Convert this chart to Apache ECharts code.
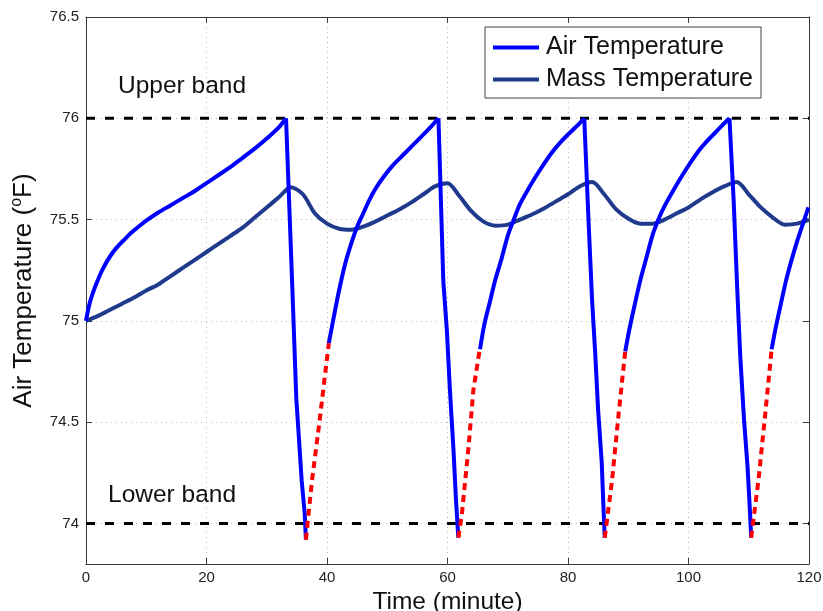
<!DOCTYPE html>
<html>
<head>
<meta charset="utf-8">
<script src="https://cdn.jsdelivr.net/npm/echarts@6/dist/echarts.min.js"></script>
<style>html,body{margin:0;padding:0;background:#fff;overflow:hidden}#c{width:823px;height:611px}</style>
</head>
<body>
<div id="c"></div>
<script>
// ---- data ----
const xTicks = [0, 20, 40, 60, 80, 100, 120];
const yTicks = [74, 74.5, 75, 75.5, 76, 76.5];
const upperBand = [[0, 76], [120, 76]];
const lowerBand = [[0, 74], [120, 74]];
// heating phases of the air temperature (smooth rises)
const airRise = [
  [0,75.0],[0.5,75.075],[1.1,75.135],[1.8,75.19],[2.6,75.245],[3.5,75.295],[4.5,75.34],[5.5,75.375],[6.5,75.405],[7.5,75.435],[8.7,75.465],[10,75.495],[12,75.535],[14,75.57],[16,75.605],[18,75.64],[20,75.68],[22,75.72],[24,75.76],[26,75.805],[28,75.85],[30,75.9],[32,75.955],[33.2,76.0],
  '-',
  [40.3,74.89],[41,75.0],[42,75.15],[43,75.28],[44,75.38],[45,75.465],[46,75.53],[47,75.595],[48,75.65],[49.5,75.715],[51,75.77],[52.5,75.815],[54,75.86],[55.5,75.905],[57,75.95],[58.5,76.0],
  '-',
  [65.4,74.86],[66.1,74.98],[67,75.09],[68,75.21],[69,75.31],[70,75.42],[71,75.5],[72,75.575],[73.2,75.64],[74.5,75.705],[75.9,75.77],[77.3,75.83],[78.7,75.88],[80,75.92],[81.4,75.96],[82.7,76.0],
  '-',
  [89.5,74.85],[90.2,74.96],[91,75.07],[92,75.2],[93,75.31],[94,75.42],[95,75.5],[96,75.565],[97.5,75.645],[99,75.72],[100.3,75.78],[101.7,75.84],[103,75.885],[104.3,75.925],[105.6,75.965],[106.8,76.0],
  '-',
  [113.8,74.86],[114.5,74.97],[115.3,75.08],[116.2,75.2],[117.1,75.3],[118,75.39],[119,75.48],[119.9,75.56]
];
// cooling phases of the air temperature (steep drops)
const airDrop = [
  [33.2,76.0],[33.7,75.6],[34.2,75.2],[34.9,74.62],[35.8,74.21],[36.3,74.05],[36.5,73.92],
  '-',
  [58.5,76.0],[58.9,75.6],[59.3,75.2],[59.9,74.95],[60.4,74.66],[61.0,74.36],[61.4,74.12],[61.8,73.93],
  '-',
  [82.7,76.0],[83.4,75.5],[84.0,75.1],[84.5,74.85],[85.0,74.56],[85.6,74.3],[85.9,74.07],[86.1,73.93],
  '-',
  [106.8,76.0],[107.5,75.59],[108.1,75.15],[108.6,74.82],[109.2,74.52],[109.8,74.28],[110.2,74.06],[110.4,73.93]
];
// red dashed recovery segments
const airRecovery = [
  [36.5,73.92],[37.5,74.21],[38.7,74.49],[40.3,74.89],
  '-',
  [61.8,73.93],[62.4,74.05],[63.5,74.38],[64.3,74.66],[65.4,74.87],
  '-',
  [86.1,73.93],[87.3,74.21],[88.4,74.54],[89.5,74.85],
  '-',
  [110.4,73.93],[111.6,74.21],[112.7,74.53],[113.8,74.86]
];
const massTemp = [
  [0,75.00],[2,75.025],[4,75.055],[6,75.085],[8,75.115],[10,75.15],[12,75.18],[14,75.22],[16,75.26],[18,75.30],
  [20,75.34],[22,75.38],[24,75.42],[26,75.46],[28,75.51],[30,75.56],[32,75.61],[34,75.66],[36,75.625],[38,75.53],
  [40,75.48],[42,75.455],[44,75.45],[46,75.465],[48,75.49],[50,75.52],[52,75.55],[54,75.585],[56,75.625],[58,75.665],
  [60,75.68],[62,75.615],[64,75.54],[66,75.49],[68,75.47],[70,75.475],[72,75.50],[74,75.525],[76,75.555],[78,75.59],
  [80,75.625],[82,75.665],[84,75.685],[86,75.625],[88,75.55],[90,75.505],[92,75.48],[94,75.48],[96,75.50],[98,75.53],
  [100,75.56],[102,75.60],[104,75.635],[106,75.665],[108,75.685],[110,75.625],[112,75.56],[114,75.51],[116,75.475],[118,75.48],
  [120,75.50]
];

const FONT = '"Liberation Sans", Arial, sans-serif';
const chart = echarts.init(document.getElementById('c'), null, {renderer: 'canvas', width: 823, height: 611});
const axisLineStyle = {color: '#3a3a3a', width: 1};
const gridLine = {show: true, lineStyle: {color: '#b8b8b8', type: [1, 4], width: 1}};
const AIR = '#0000ff', MASS = '#1f3a8c';
chart.setOption({
  animation: false,
  backgroundColor: '#fff',
  textStyle: {fontFamily: FONT},
  grid: {left: 86, top: 17, width: 723, height: 547, containLabel: false, outerBoundsMode: 'none'},
  xAxis: [{
    type: 'value', min: 0, max: 120, interval: 20,
    name: 'Time (minute)', nameLocation: 'middle', nameGap: 14,
    nameTextStyle: {fontSize: 24.5, color: '#111', fontFamily: FONT},
    axisLine: {show: true, lineStyle: axisLineStyle},
    axisTick: {show: true, inside: true, length: 6, lineStyle: axisLineStyle},
    axisLabel: {fontSize: 15, color: '#222', margin: 6, fontFamily: FONT},
    splitLine: gridLine
  }, {
    type: 'value', min: 0, max: 120, interval: 20, position: 'top',
    axisLine: {show: true, onZero: false, lineStyle: axisLineStyle},
    axisTick: {show: true, inside: true, length: 6, lineStyle: axisLineStyle},
    axisLabel: {show: false}, splitLine: {show: false}
  }],
  yAxis: [{
    type: 'value', min: 73.8, max: 76.5,
    name: 'Air Temperature ({s|o}F)', nameLocation: 'middle', nameGap: 40,
    nameTextStyle: {fontSize: 26, color: '#111', fontFamily: FONT, lineHeight: 30,
      rich: {s: {fontSize: 16, verticalAlign: 'top', lineHeight: 30, color: '#111', fontFamily: FONT}}},
    axisLine: {show: true, onZero: false, lineStyle: axisLineStyle},
    axisTick: {show: true, inside: true, length: 6, lineStyle: axisLineStyle, customValues: yTicks},
    axisLabel: {fontSize: 15, color: '#222', margin: 7, fontFamily: FONT, customValues: yTicks},
    splitLine: gridLine
  }, {
    type: 'value', min: 73.8, max: 76.5, position: 'right',
    axisLine: {show: true, onZero: false, lineStyle: axisLineStyle},
    axisTick: {show: true, inside: true, length: 6, lineStyle: axisLineStyle, customValues: yTicks},
    axisLabel: {show: false}, splitLine: {show: false}
  }],
  legend: {
    data: [{name: 'Air Temperature', icon: 'rect'}, {name: 'Mass Temperature', icon: 'rect'}],
    orient: 'vertical', left: 485, top: 27,
    padding: [8, 8, 6, 8], itemGap: 7, itemWidth: 46, itemHeight: 4,
    backgroundColor: '#fff', borderColor: '#444', borderWidth: 1, borderRadius: 0,
    textStyle: {fontSize: 25, color: '#111', fontFamily: FONT, padding: [0, 0, 0, 2]}
  },
  graphic: [
    {type: 'text', left: 118, top: 74, style: {text: 'Upper band', fontSize: 24.5, fill: '#111', fontFamily: FONT}},
    {type: 'text', left: 108, top: 483, style: {text: 'Lower band', fontSize: 24.5, fill: '#111', fontFamily: FONT}}
  ],
  series: [
    {type: 'line', name: 'Upper', data: upperBand, symbol: 'none', silent: true, z: 3,
     lineStyle: {color: '#000', width: 3, type: [9, 10]}},
    {type: 'line', name: 'Lower', data: lowerBand, symbol: 'none', silent: true, z: 3,
     lineStyle: {color: '#000', width: 3, type: [9, 10]}},
    {type: 'line', name: 'Mass Temperature', data: massTemp, symbol: 'none', smooth: 0.3, z: 4,
     lineStyle: {color: MASS, width: 4}, itemStyle: {color: MASS}},
    {type: 'line', name: 'Air Temperature', data: airRise, symbol: 'none', smooth: 0.3, connectNulls: false, z: 5,
     lineStyle: {color: AIR, width: 4, join: 'round'}, itemStyle: {color: AIR}},
    {type: 'line', name: 'Air Temperature', data: airDrop, symbol: 'none', connectNulls: false, z: 5,
     lineStyle: {color: AIR, width: 4, join: 'round'}, itemStyle: {color: AIR}},
    {type: 'line', name: 'Recovery', data: airRecovery, symbol: 'none', connectNulls: false, z: 5,
     lineStyle: {color: '#ff0000', width: 4, type: [7, 5]}, itemStyle: {color: '#ff0000'}}
  ]
});
</script>
</body>
</html>
